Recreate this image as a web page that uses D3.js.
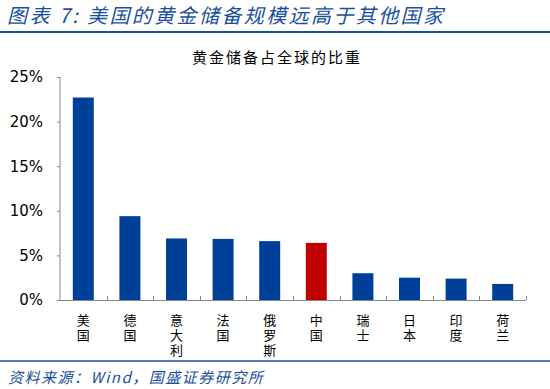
<!DOCTYPE html>
<meta charset="utf-8">
<head>
<style>
  body { margin: 0; background: #fff; }
  text { font-family: "Noto Sans CJK SC", "Noto Sans", sans-serif; }
</style>
</head>
<body>
<script src="https://d3js.org/d3.v7.min.js"></script>
<script>

// data
var countries = ["美国", "德国", "意大利", "法国", "俄罗斯", "中国", "瑞士", "日本", "印度", "荷兰"];
var shares = [22.7, 9.4, 6.9, 6.85, 6.6, 6.4, 3.0, 2.5, 2.4, 1.8];
var yTicks = [0, 5, 10, 15, 20, 25];

var width = 550,
    height = 389;

var svg = d3.select("body").append("svg")
    .attr("width", width)
    .attr("height", height);

// header
svg.append("text")
    .attr("x", 7).attr("y", 23)
    .attr("fill", "#1b4f9c")
    .style("font-size", "20px")
    .style("font-style", "italic")
    .style("letter-spacing", "2.4px")
    .text("图表 7:  美国的黄金储备规模远高于其他国家");

svg.append("line")
    .attr("x1", 0).attr("x2", width)
    .attr("y1", 32).attr("y2", 32)
    .attr("stroke", "#1b4f9c").attr("stroke-width", 2);

svg.append("text")
    .attr("x", 277).attr("y", 63)
    .attr("text-anchor", "middle")
    .style("font-size", "15px")
    .style("letter-spacing", "2px")
    .text("黄金储备占全球的比重");

// scales
var x = d3.scaleBand()
    .domain(countries)
    .range([60, 526])
    .paddingInner(0.55)
    .paddingOuter(0.275);

var y = d3.scaleLinear()
    .domain([0, 25])
    .range([300, 77]);

// bars
svg.append("g").selectAll("rect")
    .data(countries)
    .enter().append("rect")
      .attr("x", function(d) { return x(d); })
      .attr("y", function(d, i) { return y(shares[i]); })
      .attr("width", x.bandwidth())
      .attr("height", function(d, i) { return y(0) - y(shares[i]); })
      .attr("fill", function(d) { return d == "中国" ? "#c00000" : "#003f98"; });

// y axis
var yAxis = svg.append("g")
    .attr("transform", "translate(60,0)")
    .call(d3.axisLeft(y).tickValues(yTicks).tickSize(3).tickPadding(14)
      .tickFormat(function(d) { return d + "%"; }));
yAxis.select(".domain").attr("stroke", "#888").attr("d", "M0,77V300");
yAxis.selectAll(".tick line").attr("stroke", "#888");
yAxis.selectAll("text")
    .attr("fill", "#000")
    .style("font-family", "'DejaVu Sans', Tahoma, sans-serif")
    .style("font-size", "15px");

// x axis: baseline with small inward ticks between categories
var step = x.step();
var xAxis = svg.append("g").attr("class", "xaxis");
xAxis.append("line")
    .attr("x1", 60).attr("x2", 526)
    .attr("y1", 300.5).attr("y2", 300.5)
    .attr("stroke", "#888");
xAxis.selectAll(".sep")
    .data(countries.slice(1).concat(["end"]))
    .enter().append("line")
      .attr("x1", function(d, i) { return Math.round(60 + step * (i + 1)) + 0.5; })
      .attr("x2", function(d, i) { return Math.round(60 + step * (i + 1)) + 0.5; })
      .attr("y1", 296).attr("y2", 300)
      .attr("stroke", "#888");

// vertical category labels
svg.append("g").selectAll("text")
    .data(countries)
    .enter().append("text")
      .attr("x", function(d) { return x(d) + x.bandwidth() / 2; })
      .attr("y", 314)
      .style("writing-mode", "vertical-rl")
      .style("font-size", "13px")
      .style("letter-spacing", "2px")
      .attr("fill", "#000")
      .text(function(d) { return d; });

// footer
svg.append("line")
    .attr("x1", 0).attr("x2", width)
    .attr("y1", 361).attr("y2", 361)
    .attr("stroke", "#1b4f9c").attr("stroke-width", 1.5);

svg.append("text")
    .attr("x", 8).attr("y", 383)
    .attr("fill", "#1b4f9c")
    .style("font-size", "15px")
    .style("font-style", "italic")
    .style("letter-spacing", "1.5px")
    .text("资料来源：Wind，国盛证券研究所");

</script>
</body>
